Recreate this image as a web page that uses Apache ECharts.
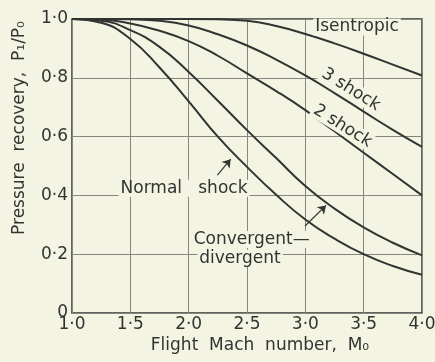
<!DOCTYPE html>
<html>
<head>
<meta charset="utf-8">
<script src="https://cdn.jsdelivr.net/npm/echarts@6/dist/echarts.min.js"></script>
<style>
html,body{margin:0;padding:0;background:#f4f4e2;}
#chart{width:435px;height:362px;}
</style>
</head>
<body>
<div id="chart"></div>
<script>
// Data
const machNumbers = [1.0, 1.25, 1.5, 1.75, 2.0, 2.25, 2.5, 2.75, 3.0, 3.25, 3.5, 3.75, 4.0];
const isentropic  = [1.0, 1.0, 1.0, 1.0, 1.0, 0.999, 0.994, 0.976, 0.949, 0.917, 0.882, 0.845, 0.808];
const threeShock  = [1.0, 1.0, 0.999, 0.994, 0.978, 0.948, 0.91, 0.862, 0.808, 0.748, 0.685, 0.623, 0.565];
const twoShock    = [1.0, 0.998, 0.985, 0.96, 0.925, 0.875, 0.815, 0.755, 0.69, 0.618, 0.545, 0.473, 0.40];
const convDiv     = [1.0, 0.994, 0.962, 0.905, 0.82, 0.722, 0.622, 0.527, 0.432, 0.355, 0.291, 0.239, 0.196];
const normalShock = [1.0, 0.987, 0.932, 0.835, 0.72, 0.6, 0.497, 0.402, 0.318, 0.253, 0.2, 0.16, 0.13];

const xTicks = [1.0, 1.5, 2.0, 2.5, 3.0, 3.5, 4.0];
const yTicks = [0, 0.2, 0.4, 0.6, 0.8, 1.0];

const xTitle = 'Flight  Mach  number,  M\u2080';
const yTitle = 'Pressure  recovery,  P\u2081/P\u2080';

// Annotations: [text, M, P, rotate]
const annotations = [
  ['Isentropic', 3.443, 0.973, 0],
  ['3 shock', 3.39, 0.76, -32],
  ['2 shock', 3.32, 0.636, -32],
  ['Normal   shock', 1.96, 0.424, 0],
  ['Convergent\u2014', 2.54, 0.250, 0],
  ['divergent', 2.44, 0.186, 0]
];
// Arrows: [tailM, tailP, headM, headP]
const arrows = [
  [2.246, 0.469, 2.36, 0.523],
  [2.997, 0.296, 3.177, 0.366]
];

const BG = '#f4f4e2';
const INK = '#333333';
const FONT = 'DejaVu Sans';

function pairs(ys) { return machNumbers.map((m, i) => [m, ys[i]]); }
function fmt(v) { return Math.abs(v) < 1e-9 ? '0' : v.toFixed(1).replace('.', '\u00b7'); }

const curveSeries = [isentropic, threeShock, twoShock, convDiv, normalShock].map(ys => ({
  type: 'line',
  data: pairs(ys),
  smooth: 0.5,
  showSymbol: false,
  symbol: 'none',
  clip: false,
  lineStyle: { color: INK, width: 2 },
  z: 3
}));

const annotationSeries = {
  type: 'scatter',
  data: annotations.map(a => ({
    value: [a[1], a[2]],
    label: {
      show: true,
      formatter: a[0],
      rotate: a[3],
      position: 'inside',
      color: INK,
      fontSize: 17,
      fontFamily: FONT,
      backgroundColor: BG,
      padding: [0, 2]
    }
  })),
  symbolSize: 1,
  itemStyle: { color: 'rgba(0,0,0,0)', opacity: 1 },
  silent: true,
  z: 5,
  markLine: {
    silent: true,
    symbol: ['none', 'arrow'],
    symbolSize: 8,
    label: { show: false },
    lineStyle: { color: INK, width: 1.2, type: 'solid', opacity: 1 },
    data: arrows.map(a => [{ coord: [a[0], a[1]] }, { coord: [a[2], a[3]] }])
  }
};

const chart = echarts.init(document.getElementById('chart'), null, { renderer: 'canvas' });
chart.setOption({
  backgroundColor: BG,
  animation: false,
  grid: {
    left: 72, right: 13, top: 19, bottom: 49,
    show: true, borderColor: '#333333', borderWidth: 1.5,
    outerBoundsMode: 'none'
  },
  xAxis: {
    type: 'value', min: xTicks[0], max: xTicks[xTicks.length - 1], interval: 0.5,
    axisLine: { show: false }, axisTick: { show: false },
    splitLine: { show: true, lineStyle: { color: '#86867e', width: 1 } },
    axisLabel: { formatter: fmt, color: INK, fontSize: 17, fontFamily: FONT, margin: 3 }
  },
  yAxis: {
    type: 'value', min: yTicks[0], max: yTicks[yTicks.length - 1], interval: 0.2,
    axisLine: { show: false }, axisTick: { show: false },
    splitLine: { show: true, lineStyle: { color: '#86867e', width: 1 } },
    axisLabel: { formatter: fmt, color: INK, fontSize: 17, fontFamily: FONT, margin: 4 }
  },
  graphic: [
    { type: 'text', x: 260, y: 346, style: { text: xTitle, fill: INK, font: '17px "DejaVu Sans"', textAlign: 'center', textVerticalAlign: 'middle' } },
    { type: 'text', x: 20, y: 128, rotation: Math.PI / 2, style: { text: yTitle, fill: INK, font: '17px "DejaVu Sans"', textAlign: 'center', textVerticalAlign: 'middle' } }
  ],
  series: curveSeries.concat([annotationSeries])
});
</script>
</body>
</html>
